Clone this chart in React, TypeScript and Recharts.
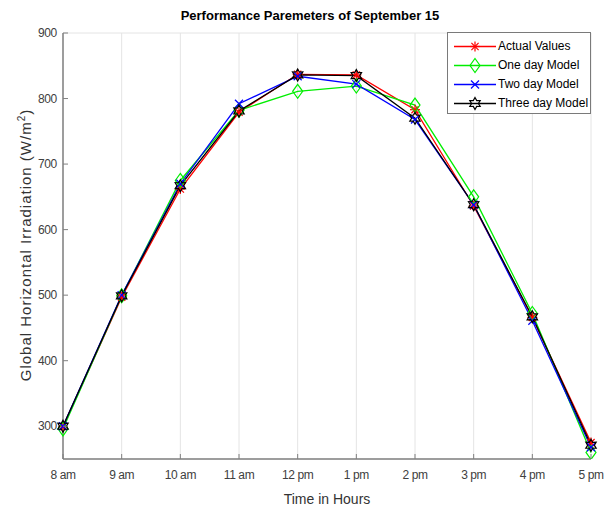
import React from 'react';
import { LineChart, Line, XAxis, YAxis, CartesianGrid, Legend } from 'recharts';

const times = ['8 am', '9 am', '10 am', '11 am', '12 pm', '1 pm', '2 pm', '3 pm', '4 pm', '5 pm'];
const actualValues = [299, 497, 662, 779, 837, 836, 783, 636, 466, 275];
const oneDayModel = [296, 499, 675, 782, 811, 819, 790, 650, 472, 260];
const twoDayModel = [300, 500, 670, 792, 834, 822, 768, 638, 461, 268];
const threeDayModel = [300, 499, 667, 781, 836, 835, 770, 638, 467, 271];
const yTicks = [300, 400, 500, 600, 700, 800, 900];

const seriesNames = ['Actual Values', 'One day Model', 'Two day Model', 'Three day Model'];
const seriesColors = ['#ff0000', '#00ee00', '#0000ff', '#000000'];
const seriesKeys = ['actual', 'one', 'two', 'three'];

const data = times.map((t, i) => ({
  time: t,
  actual: actualValues[i],
  one: oneDayModel[i],
  two: twoDayModel[i],
  three: threeDayModel[i],
}));

const FONT = '"Liberation Sans", Arial, sans-serif';

function Marker({ kind, cx, cy, color }: { kind: number; cx: number; cy: number; color: string }) {
  if (cx == null || cy == null) return null;
  if (kind === 0) {
    const r = 5;
    const d = 3.6;
    return (
      <g stroke={color} strokeWidth={1.2} fill="none">
        <line x1={cx - r} y1={cy} x2={cx + r} y2={cy} />
        <line x1={cx} y1={cy - r} x2={cx} y2={cy + r} />
        <line x1={cx - d} y1={cy - d} x2={cx + d} y2={cy + d} />
        <line x1={cx - d} y1={cy + d} x2={cx + d} y2={cy - d} />
      </g>
    );
  }
  if (kind === 1) {
    return (
      <polygon
        points={`${cx},${cy - 7} ${cx + 5},${cy} ${cx},${cy + 7} ${cx - 5},${cy}`}
        stroke={color}
        strokeWidth={1.2}
        fill="none"
      />
    );
  }
  if (kind === 2) {
    const d = 4;
    return (
      <g stroke={color} strokeWidth={1.2}>
        <line x1={cx - d} y1={cy - d} x2={cx + d} y2={cy + d} />
        <line x1={cx - d} y1={cy + d} x2={cx + d} y2={cy - d} />
      </g>
    );
  }
  const pts: string[] = [];
  for (let k = 0; k < 12; k++) {
    const ang = (-90 + k * 30) * Math.PI / 180;
    const rr = k % 2 === 0 ? 6 : 3.4;
    pts.push(`${cx + rr * Math.cos(ang)},${cy + rr * Math.sin(ang)}`);
  }
  return <polygon points={pts.join(' ')} stroke={color} strokeWidth={1.2} fill="none" />;
}

const LegendBox = () => (
  <div
    style={{
      position: 'absolute',
      left: 447,
      top: 32,
      width: 142,
      height: 80,
      background: '#fff',
      border: '1px solid #7a7a7a',
      fontFamily: FONT,
      fontSize: 12,
      color: '#000',
    }}
  >
    {seriesNames.map((n, i) => (
      <div key={n} style={{ position: 'absolute', left: 0, top: 4 + i * 19, height: 19, width: 142 }}>
        <svg width={48} height={19} style={{ position: 'absolute', left: 5, top: 0 }}>
          <line x1={1} y1={9.5} x2={43} y2={9.5} stroke={seriesColors[i]} strokeWidth={1.3} />
          <Marker kind={i} cx={22} cy={9.5} color={seriesColors[i]} />
        </svg>
        <span style={{ position: 'absolute', left: 50, top: 2, whiteSpace: 'nowrap', lineHeight: '15px' }}>{n}</span>
      </div>
    ))}
  </div>
);

const LeftTick = (props: any) => {
  const { x, y, payload } = props;
  return (
    <g>
      <line x1={x + 6} y1={y} x2={x + 11} y2={y} stroke="#808080" />
      <text x={x} y={y} dy={4} textAnchor="end" fill="#404040" fontSize={12} fontFamily={FONT} letterSpacing={-0.3}>
        {payload.value}
      </text>
    </g>
  );
};

const RightTick = (props: any) => {
  const { x, y } = props;
  return <line x1={x} y1={y} x2={x - 5} y2={y} stroke="#808080" />;
};

const BottomTick = (props: any) => {
  const { x, y, payload } = props;
  return (
    <g>
      <line x1={x} y1={y - 9} x2={x} y2={y - 14} stroke="#808080" />
      <text x={x} y={y} dy={11} textAnchor="middle" fill="#404040" fontSize={12} fontFamily={FONT} letterSpacing={-0.4}>
        {payload.value}
      </text>
    </g>
  );
};

const TopTick = (props: any) => {
  const { x, y } = props;
  return <line x1={x} y1={y} x2={x} y2={y + 5} stroke="#808080" />;
};

export default function App() {
  return (
    <div style={{ position: 'absolute', left: 0, top: 0, width: 606, height: 506, background: '#fff' }}>
      <LineChart
        width={606}
        height={506}
        data={data}
        margin={{ top: 33, right: 15, left: 0, bottom: 0 }}
      >
        <CartesianGrid stroke="#e4e4e4" strokeWidth={1} />
        <XAxis
          dataKey="time"
          xAxisId="b"
          height={47}
          tickSize={0}
          tickMargin={9}
          tick={<BottomTick />}
          axisLine={{ stroke: '#808080', strokeWidth: 1.5 }}
          interval={0}
          label={{ value: 'Time in Hours', position: 'insideBottom', offset: 2, fill: '#333', fontSize: 14, fontFamily: FONT }}
        />
        <XAxis
          dataKey="time"
          xAxisId="t"
          orientation="top"
          height={0}
          tickSize={0}
          tick={<TopTick />}
          axisLine={{ stroke: '#808080' }}
          interval={0}
        />
        <YAxis
          yAxisId="l"
          width={63}
          domain={[250, 900]}
          ticks={yTicks}
          tickSize={0}
          tickMargin={6}
          tick={<LeftTick />}
          axisLine={{ stroke: '#808080', strokeWidth: 1.5 }}
          allowDataOverflow
        />
        <YAxis
          yAxisId="r"
          orientation="right"
          width={0}
          domain={[250, 900]}
          ticks={yTicks}
          tickSize={0}
          tick={<RightTick />}
          axisLine={{ stroke: '#808080', strokeWidth: 1.5 }}
          allowDataOverflow
        />
        {seriesKeys.map((k, i) => (
          <Line
            key={k}
            xAxisId="b"
            yAxisId="l"
            type="linear"
            dataKey={k}
            name={seriesNames[i]}
            stroke={seriesColors[i]}
            strokeWidth={1.3}
            isAnimationActive={false}
            dot={(p: any) => <Marker key={`${k}-${p.index}`} kind={i} cx={p.cx} cy={p.cy} color={seriesColors[i]} />}
            activeDot={false}
          />
        ))}
        <Legend content={() => null} />
      </LineChart>
      <div
        style={{
          position: 'absolute',
          left: 0,
          top: 8,
          width: 620,
          textAlign: 'center',
          fontFamily: FONT,
          fontWeight: 'bold',
          fontSize: 13,
          color: '#000',
        }}
      >
        Performance Paremeters of September 15
      </div>
      <div
        style={{
          position: 'absolute',
          left: 25,
          top: 245,
          transform: 'translate(-50%, -50%) rotate(-90deg)',
          whiteSpace: 'nowrap',
          fontFamily: FONT,
          fontSize: 15,
          letterSpacing: 1,
          color: '#333',
        }}
      >
        Global Horizontal Irradiation (W/m<sup style={{ fontSize: 10 }}>2</sup>)
      </div>
      <LegendBox />
    </div>
  );
}
